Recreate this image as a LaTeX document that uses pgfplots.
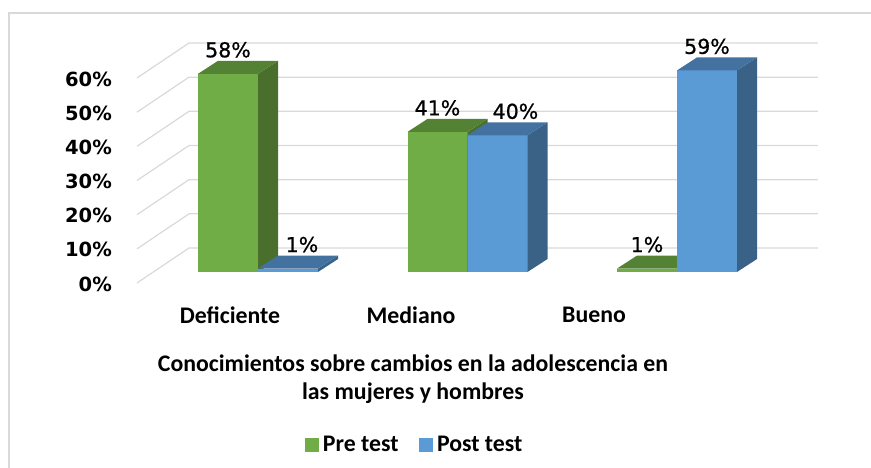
\documentclass[border=0pt]{standalone}
\usepackage{pgfplots}
\pgfplotsset{compat=1.18}
\usepackage{fontspec}
\setmainfont{Carlito}
\newfontfamily\dejavu{DejaVu Sans}
\newfontfamily\dejavuval[FakeBold=0.8]{DejaVu Sans}

\definecolor{preF}{HTML}{70AD47}
\definecolor{preS}{HTML}{4A6E2C}
\definecolor{preT}{HTML}{548235}
\definecolor{postF}{HTML}{5B9BD5}
\definecolor{postS}{HTML}{3A6287}
\definecolor{postT}{HTML}{4472A0}
\definecolor{gridc}{HTML}{D9D9D9}

\newcommand{\tickfont}{\dejavu\bfseries\fontsize{19.5}{20}\selectfont}
\newcommand{\valfont}{\dejavuval\fontsize{20.5}{22}\selectfont}
\newcommand{\catfont}{\bfseries\fontsize{23.8}{28}\selectfont}

% bar geometry (axis units)
\newcommand{\bw}{0.2864}
\newcommand{\ddx}{0.0955}
\newcommand{\ddy}{3.8}

% one 3D bar: left x, value, front, side, top colours
\newcommand{\cubebar}[5]{%
  \pgfmathsetmacro\xa{#1}\pgfmathsetmacro\xb{#1+\bw}%
  \pgfmathsetmacro\xc{#1+\bw+\ddx}\pgfmathsetmacro\xd{#1+\ddx}%
  \pgfmathsetmacro\yb{#2+\ddy}%
  \edef\tmp{\noexpand\addplot[fill=#3,draw=none,forget plot] coordinates {(\xa,0) (\xb,0) (\xb,#2) (\xa,#2)};}\tmp
  \edef\tmp{\noexpand\addplot[fill=#4,draw=none,forget plot] coordinates {(\xb,0) (\xc,\ddy) (\xc,\yb) (\xb,#2)};}\tmp
  \edef\tmp{\noexpand\addplot[fill=#5,draw=none,forget plot] coordinates {(\xa,#2) (\xb,#2) (\xc,\yb) (\xd,\yb)};}\tmp
}

% grid line on side and back wall, plus its tick label
\newcommand{\gridrow}[1]{%
  \pgfmathsetmacro\ga{#1-3.22}\pgfmathsetmacro\gb{#1+7.02}%
  \edef\tmp{\noexpand\addplot[gridc,line width=1.2pt,forget plot] coordinates {(0.4224,\ga) (0.6706,\gb) (3.673,\gb)};}\tmp
  \edef\tmp{\noexpand\node[anchor=east,inner sep=0pt,xshift=-25pt,yshift=-1pt,font=\noexpand\tickfont] at (axis cs:0.4224,\ga) {#1\noexpand\%};}\tmp
}

\begin{document}
\begin{tikzpicture}
\path[use as bounding box] (0,0) rectangle (871pt,468pt);
\draw[gridc, line width=1.5pt] (9pt,0) -- (9pt,455pt) -- (871pt,455pt);
\begin{axis}[
    at={(111.35pt,161.83pt)}, anchor=south west,
    scale only axis, width=733.25pt, height=273.36pt,
    xmin=0.3, xmax=3.8, ymin=-10, ymax=70,
    hide axis, clip=false,
    legend image code/.code={\fill[#1] (0pt,-6.5pt) rectangle (13pt,6.5pt);},
    legend style={at={(0.4134,-0.508)}, anchor=center, draw=none, fill=none,
        legend columns=2, font=\catfont,
        /tikz/every odd column/.append style={column sep=3pt},
        /tikz/every even column/.append style={column sep=18pt}},
]
\foreach \v in {0,10,...,60}{\gridrow{\v}}

\cubebar{0.7136}{58}{preF}{preS}{preT}
\cubebar{1}{1}{postF}{postS}{postT}
\cubebar{1.7136}{41}{preF}{preS}{preT}
\cubebar{2}{40}{postF}{postS}{postT}
\cubebar{2.7136}{1}{preF}{preS}{preT}
\cubebar{3}{59}{postF}{postS}{postT}

\addlegendimage{preF}\addlegendentry{Pre test}
\addlegendimage{postF}\addlegendentry{Post test}

\node[anchor=south,inner sep=0pt,font=\valfont] at (axis cs:0.8568,62.7) {58\%};
\node[anchor=south,inner sep=0pt,font=\valfont] at (axis cs:1.21,5.7) {1\%};
\node[anchor=south,inner sep=0pt,font=\valfont] at (axis cs:1.8568,45.7) {41\%};
\node[anchor=south,inner sep=0pt,font=\valfont] at (axis cs:2.229,44.7) {40\%};
\node[anchor=south,inner sep=0pt,font=\valfont] at (axis cs:2.8568,5.7) {1\%};
\node[anchor=south,inner sep=0pt,font=\valfont] at (axis cs:3.1432,63.7) {59\%};

\node[font=\catfont] at (axis cs:0.8663,-12.6) {Deficiente};
\node[font=\catfont] at (axis cs:1.7303,-12.6) {Mediano};
\node[font=\catfont] at (axis cs:2.6038,-12.6) {Bueno};
\end{axis}
\node[font=\catfont, align=center] at (413pt,89pt) {Conocimientos sobre cambios en la adolescencia en\\las mujeres y hombres};
\end{tikzpicture}
\end{document}
